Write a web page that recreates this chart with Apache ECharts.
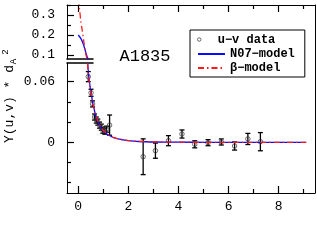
<!DOCTYPE html>
<html>
<head>
<meta charset="utf-8">
<script src="https://cdn.jsdelivr.net/npm/echarts@6/dist/echarts.min.js"></script>
<style>html,body{margin:0;padding:0;background:#fff}#c{width:317px;height:249px}</style>
</head>
<body>
<div id="c"></div>
<script>
// ---- data ----
const uvX   = [0.40, 0.51, 0.57, 0.65, 0.72, 0.78, 0.85, 0.92, 0.98, 1.06, 1.13, 1.25, 2.59, 3.08, 3.60, 4.14, 4.65, 5.18, 5.71, 6.24, 6.77, 7.27];
const uvY   = [0.065, 0.049, 0.038, 0.025, 0.022, 0.020, 0.017, 0.015, 0.012, 0.011, 0.013, 0.017, -0.0143, -0.0083, 0.0016, 0.0082, -0.002, -0.0004, 0.0003, -0.0037, 0.0033, 0.0006];
const uvErr = [0.005, 0.0035, 0.003, 0.003, 0.003, 0.003, 0.003, 0.003, 0.003, 0.003, 0.003, 0.010, 0.0177, 0.0075, 0.005, 0.004, 0.0035, 0.003, 0.003, 0.004, 0.0055, 0.009];

const n07TopX = [0, 0.1, 0.2, 0.3, 0.36, 0.40];
const n07TopY = [0.200, 0.183, 0.155, 0.113, 0.090, 0.075];
const betaTopX = [0, 0.05, 0.10, 0.16, 0.23, 0.30, 0.36];
const betaTopY = [0.38, 0.33, 0.27, 0.222, 0.160, 0.105, 0.075];

const n07X  = [0.38, 0.40, 0.45, 0.5, 0.6, 0.7, 0.8, 0.9, 1.0, 1.2, 1.4, 1.6, 1.8, 2.0, 2.4, 3.0, 4.0, 5.0, 9.1];
const n07Y  = [0.078, 0.070, 0.059, 0.050, 0.036, 0.026, 0.0195, 0.0148, 0.0113, 0.0071, 0.0047, 0.0033, 0.0023, 0.0016, 0.0008, 0.0003, 0.0001, 0, 0];
const betaX = [0.37, 0.40, 0.45, 0.5, 0.6, 0.7, 0.8, 0.9, 1.0, 1.2, 1.4, 1.6, 1.8, 2.0, 2.4, 3.0, 4.0, 5.0, 9.1];
const betaY = [0.078, 0.067, 0.057, 0.049, 0.036, 0.027, 0.020, 0.015, 0.0115, 0.0072, 0.0048, 0.0034, 0.0024, 0.0017, 0.0009, 0.0004, 0.0001, 0, 0];

const xMajorTicks = [0, 2, 4, 6, 8];
const xMinorTicks = [1, 3, 5, 7, 9];
const yLowMajor = [0.06, 0];
const yLowMinor = [0.04, 0.02, -0.02, -0.04];
const yTopMajor = [0.1, 0.2, 0.3];
const yTopMinor = [0.15, 0.25, 0.35];

const seriesNames = ['u\u2212v data', 'N07\u2212model', '\u03b2\u2212model'];
const panelLabel = 'A1835';

// ---- chart ----
const FONT = "'Liberation Mono', monospace";
const zip = (a, b) => a.map((v, i) => [v, b[i]]);
const blk = '#000';
const hidden = {show: false};

const chart = echarts.init(document.getElementById('c'), null, {renderer: 'canvas'});

const xr = {min: -0.45, max: 9.45};
const axLine = {show: true, onZero: false, lineStyle: {color: blk, width: 1}};
const noLine = {show: false, onZero: false};
const brk = {show: true, onZero: false, lineStyle: {color: blk, width: 1.5}};
const tk = (len, vals) => ({show: true, inside: true, length: len, customValues: vals, lineStyle: {color: blk, width: 1.2}});

const option = {
  animation: false,
  backgroundColor: '#fff',
  grid: [
    {left: 67, right: 2, top: 5, bottom: 56},   // 0 frame + lower data
    {left: 67, right: 2, top: 5, bottom: 56},   // 1 minor ticks
    {left: 67, width: 26, top: 63, bottom: 56}, // 2 lower left axis
    {left: 67, width: 26, top: 63, bottom: 56}, // 3 lower minor ticks
    {left: 67, width: 26, top: 5, height: 54},  // 4 top panel
    {left: 67, width: 26, top: 5, height: 54}   // 5 top minor ticks
  ],
  xAxis: [
    {gridIndex: 0, type: 'value', position: 'bottom', ...xr, axisLine: axLine, axisTick: tk(7, xMajorTicks),
     axisLabel: {show: true, customValues: xMajorTicks, margin: 7, color: blk, fontFamily: FONT, fontSize: 13},
     splitLine: hidden},
    {gridIndex: 0, type: 'value', position: 'top', ...xr, axisLine: axLine, axisTick: tk(7, xMajorTicks),
     axisLabel: hidden, splitLine: hidden},
    {gridIndex: 1, type: 'value', position: 'bottom', ...xr, axisLine: noLine, axisTick: tk(4, xMinorTicks),
     axisLabel: hidden, splitLine: hidden},
    {gridIndex: 1, type: 'value', position: 'top', ...xr, axisLine: noLine, axisTick: tk(4, xMinorTicks),
     axisLabel: hidden, splitLine: hidden},
    {gridIndex: 2, type: 'value', position: 'top', min: -0.45, max: 0.588, axisLine: brk,
     axisTick: hidden, axisLabel: hidden, splitLine: hidden},
    {gridIndex: 3, type: 'value', show: false, min: -0.45, max: 0.588},
    {gridIndex: 4, type: 'value', position: 'bottom', min: -0.45, max: 0.588, axisLine: brk,
     axisTick: hidden, axisLabel: hidden, splitLine: hidden},
    {gridIndex: 5, type: 'value', show: false, min: -0.45, max: 0.588}
  ],
  yAxis: [
    {gridIndex: 0, type: 'value', position: 'right', min: -0.0502, max: 0.1359, axisLine: axLine,
     axisTick: hidden, axisLabel: hidden, splitLine: hidden},
    {gridIndex: 1, type: 'value', show: false, min: -0.0502, max: 0.1359},
    {gridIndex: 2, type: 'value', position: 'left', min: -0.0502, max: 0.0785, axisLine: axLine, axisTick: tk(7, yLowMajor),
     axisLabel: {show: true, customValues: yLowMajor, margin: 12, color: blk, fontFamily: FONT, fontSize: 13},
     splitLine: hidden},
    {gridIndex: 3, type: 'value', position: 'left', min: -0.0502, max: 0.0785, axisLine: noLine, axisTick: tk(4, yLowMinor),
     axisLabel: hidden, splitLine: hidden},
    {gridIndex: 4, type: 'value', position: 'left', min: 0.08, max: 0.35, axisLine: axLine, axisTick: tk(7, yTopMajor),
     axisLabel: {show: true, customValues: yTopMajor, margin: 12, color: blk, fontFamily: FONT, fontSize: 13},
     splitLine: hidden},
    {gridIndex: 5, type: 'value', position: 'left', min: 0.08, max: 0.35, axisLine: noLine, axisTick: tk(4, yTopMinor),
     axisLabel: hidden, splitLine: hidden}
  ],
  legend: [
    {data: [seriesNames[1], seriesNames[2]], orient: 'vertical', left: 190, top: 30,
     padding: [18, 10, 3, 7], itemGap: 2, itemWidth: 27, itemHeight: 12,
     borderColor: blk, borderWidth: 1, backgroundColor: '#fff',
     itemStyle: {color: 'rgba(0,0,0,0)', borderColor: 'rgba(0,0,0,0)', borderWidth: 0},
     textStyle: {color: blk, fontFamily: FONT, fontSize: 12, fontWeight: 'bold'}},
    {data: [{name: seriesNames[0], icon: 'circle'}], orient: 'vertical', left: 197, top: 33.5,
     padding: 0, itemWidth: 27, itemHeight: 3.5,
     itemStyle: {color: 'rgba(255,255,255,0)', borderColor: '#333', borderWidth: 0.9},
     textStyle: {color: blk, fontFamily: FONT, fontSize: 12, fontWeight: 'bold'}}
  ],
  graphic: [
    {type: 'text', x: 145, y: 56.5, style: {text: panelLabel, font: "17px 'Liberation Mono', monospace", fill: blk, textAlign: 'center', textVerticalAlign: 'middle'}},
    {type: 'text', x: 9.5, y: 104, rotation: Math.PI / 2, style: {text: 'Y(u,v) * d', font: "13px 'Liberation Mono', monospace", fill: blk, textAlign: 'center', textVerticalAlign: 'middle'}},
    {type: 'text', x: 13.5, y: 61.5, rotation: Math.PI / 2, style: {text: 'A', font: "9px 'Liberation Mono', monospace", fill: blk, textAlign: 'center', textVerticalAlign: 'middle'}},
    {type: 'text', x: 5.5, y: 52, rotation: Math.PI / 2, style: {text: '2', font: "9px 'Liberation Mono', monospace", fill: blk, textAlign: 'center', textVerticalAlign: 'middle'}}
  ],
  series: [
    {name: seriesNames[1], type: 'line', xAxisIndex: 6, yAxisIndex: 4, data: zip(n07TopX, n07TopY),
     symbol: 'none', smooth: 0.3, clip: true, lineStyle: {color: '#0a0aff', width: 1.3}, itemStyle: {color: '#0a0aff'}},
    {name: seriesNames[2], type: 'line', xAxisIndex: 6, yAxisIndex: 4, data: zip(betaTopX, betaTopY),
     symbol: 'none', smooth: 0.3, clip: true, lineStyle: {color: '#ff1a1a', width: 1.3, type: [6, 3, 1.5, 3]}, itemStyle: {color: '#ff1a1a'}},
    {name: seriesNames[1], type: 'line', xAxisIndex: 0, yAxisIndex: 0, data: zip(n07X, n07Y),
     symbol: 'none', smooth: 0.3, smoothMonotone: 'x', lineStyle: {color: '#0a0aff', width: 1.3}, itemStyle: {color: '#0a0aff'}},
    {name: seriesNames[2], type: 'line', xAxisIndex: 0, yAxisIndex: 0, data: zip(betaX, betaY),
     symbol: 'none', smooth: 0.3, smoothMonotone: 'x', lineStyle: {color: '#ff1a1a', width: 1.3, type: [6, 3, 1.5, 3]}, itemStyle: {color: '#ff1a1a'}},
    {name: 'err', type: 'custom', xAxisIndex: 0, yAxisIndex: 0,
     data: uvX.map((x, i) => [x, uvY[i], uvErr[i]]),
     renderItem: function (params, api) {
       const x = api.value(0), y = api.value(1), e = api.value(2);
       const t = api.coord([x, y + e]), b = api.coord([x, y - e]);
       const w = 2.5, st = {stroke: '#000', lineWidth: 1.3};
       return {type: 'group', children: [
         {type: 'line', shape: {x1: t[0], y1: t[1], x2: b[0], y2: b[1]}, style: st},
         {type: 'line', shape: {x1: t[0] - w, y1: t[1], x2: t[0] + w, y2: t[1]}, style: st},
         {type: 'line', shape: {x1: b[0] - w, y1: b[1], x2: b[0] + w, y2: b[1]}, style: st}
       ]};
     }},
    {name: seriesNames[0], type: 'scatter', xAxisIndex: 0, yAxisIndex: 0, data: zip(uvX, uvY),
     symbol: 'circle', symbolSize: 4.5,
     itemStyle: {color: 'rgba(255,255,255,0)', borderColor: '#333', borderWidth: 0.9}}
  ]
};
chart.setOption(option);
</script>
</body>
</html>
